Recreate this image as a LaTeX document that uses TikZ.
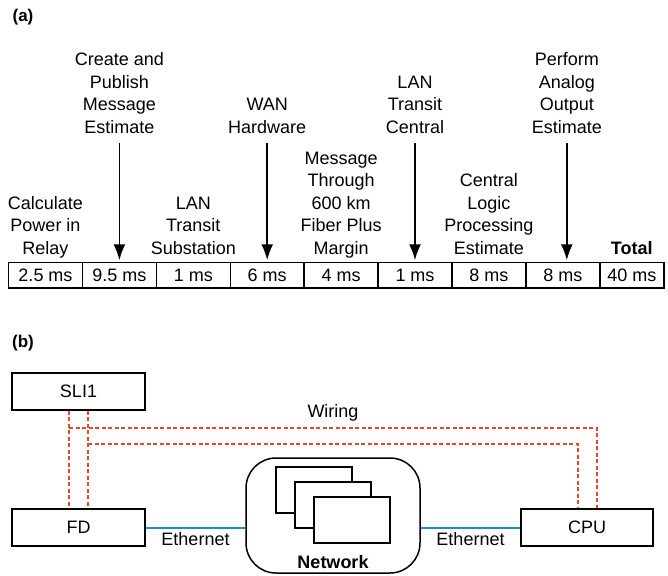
\documentclass[tikz,border=0pt]{standalone}
\usepackage{fontspec}
\setmainfont{Liberation Sans}
\usetikzlibrary{positioning,arrows.meta}
\definecolor{wirered}{HTML}{E04A2C}
\definecolor{ethblue}{RGB}{30,140,210}
\tikzset{
  cell/.style={draw, line width=1.5pt, outer sep=0pt, inner sep=0pt, minimum height=25.5pt, minimum width=73.9pt},
  lbl/.style={align=center, inner sep=0pt, text depth=4pt},
  pointer/.style={line width=1.8pt, -{Latex[length=16pt,width=12pt]}, shorten <=6pt, shorten >=2pt},
  device/.style={draw, line width=1.5pt, minimum height=37pt},
  sheet/.style={draw, line width=1.5pt, fill=white, minimum width=76pt, minimum height=46pt},
  wire/.style={draw=wirered, line width=1.6pt, dash pattern=on 4pt off 2.5pt},
  ethlink/.style={draw=ethblue, line width=2pt}
}
\begin{document}
\begin{tikzpicture}[x=1pt, y=-1pt, font=\fontsize{18}{22.5}\selectfont]
    \useasboundingbox (0,0) rectangle (668,575);
    % panel labels
    \node[font=\fontsize{17}{20}\selectfont\bfseries] (pa) at (23,17) {(a)};
    \node[font=\fontsize{17}{20}\selectfont\bfseries] (pb) at (23,343) {(b)};
    % timeline cells
    \node[cell] (c1) at (45.5,275) {2.5 ms};
    \node[cell, right=0pt of c1] (c2) {9.5 ms};
    \node[cell, right=0pt of c2] (c3) {1 ms};
    \node[cell, right=0pt of c3] (c4) {6 ms};
    \node[cell, right=0pt of c4] (c5) {4 ms};
    \node[cell, right=0pt of c5] (c6) {1 ms};
    \node[cell, right=0pt of c6] (c7) {8 ms};
    \node[cell, right=0pt of c7] (c8) {8 ms};
    \node[cell, right=0pt of c8, minimum width=64pt] (c9) {40 ms};
    % labels sitting on the cells
    \node[lbl, above=4pt of c1] (calc) {Calculate\\Power in\\Relay};
    \node[lbl, above=4pt of c3] (lansub) {LAN\\Transit\\Substation};
    \node[lbl, above=4pt of c5] (fiber) {Message\\Through\\600 km\\Fiber Plus\\Margin};
    \node[lbl, above=4pt of c7] (logic) {Central\\Logic\\Processing\\Estimate};
    \node[lbl, above=4pt of c9, font=\fontsize{18}{22.5}\selectfont\bfseries] (total) {Total};
    % labels with pointers
    \node[lbl, above=125pt of c2] (publish) {Create and\\Publish\\Message\\Estimate};
    \node[lbl, above=125pt of c4] (wan) {WAN\\Hardware};
    \node[lbl, above=125pt of c6] (lancen) {LAN\\Transit\\Central};
    \node[lbl, above=125pt of c8, xshift=4pt] (analog) {Perform\\Analog\\Output\\Estimate};
    \draw[pointer] (publish.south) -- (publish.south |- c2.north);
    \draw[pointer] (wan.south) -- (wan.south |- c4.north);
    \draw[pointer] (lancen.south) -- (lancen.south |- c6.north);
    \draw[pointer] (analog.south) -- (analog.south |- c8.north);
    % devices
    \node[device, minimum width=133pt] (sli) at (78.5,391.5) {SLI1};
    \node[device, minimum width=133pt] (fd) at (78.5,527.5) {FD};
    \node[device, minimum width=132pt] (cpu) at (587,527.5) {CPU};
    % network cloud
    \node[draw, line width=1.5pt, rounded corners=30pt, minimum width=174pt, minimum height=115pt] (net) at (333,515.5) {};
    \node[sheet] (s1) at (314,490) {};
    \node[sheet] (s2) at (333,505) {};
    \node[sheet] (s3) at (352,520) {};
    \node[font=\fontsize{18}{22.5}\selectfont\bfseries, above=2pt of net.south] (netlbl) {Network};
    % ethernet links
    \draw[ethlink] (fd.east) -- (fd.east -| net.west) node[midway, below=1pt, text=black] (eth1) {Ethernet};
    \draw[ethlink] (cpu.west -| net.east) -- (cpu.west) node[midway, below=1pt, text=black] (eth2) {Ethernet};
    % wiring
    \coordinate (wa) at (69,428);
    \coordinate (wb) at (88,444);
    \draw[wire] (sli.south -| wa) -- (fd.north -| wa);
    \draw[wire] (sli.south -| wb) -- (fd.north -| wb);
    \draw[wire] (wa) -| ([xshift=10pt]cpu.north);
    \draw[wire] (wb) -| ([xshift=-9pt]cpu.north);
    \node (wiring) at (333,413) {Wiring};
\end{tikzpicture}
\end{document}
